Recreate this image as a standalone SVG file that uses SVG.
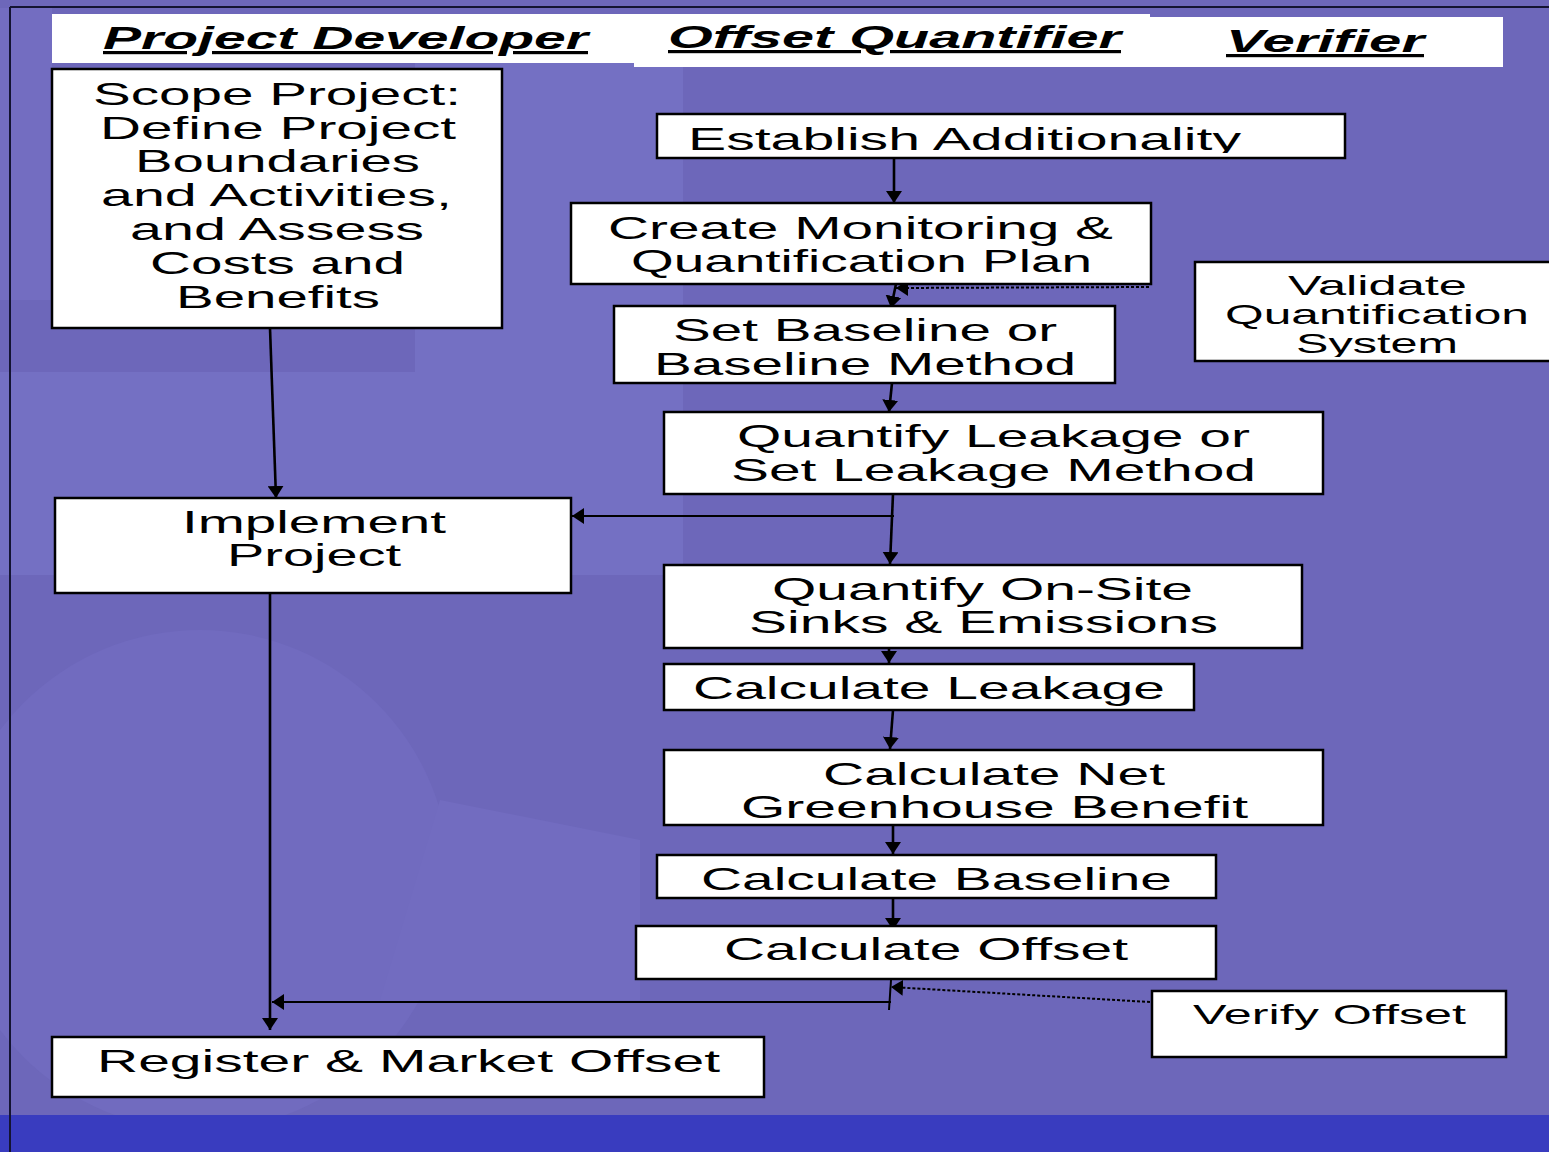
<svg xmlns="http://www.w3.org/2000/svg" width="1549" height="1152" viewBox="0 0 1549 1152">
<style>
.box{fill:#fff;stroke:#000;stroke-width:2.5}
.hdr{fill:#fff}
.t{font-family:"Liberation Sans",Arial,sans-serif;font-size:32px;fill:#000}
.ts{font-family:"Liberation Sans",Arial,sans-serif;font-size:28px;fill:#000}
.h{font-family:"Liberation Sans",Arial,sans-serif;font-size:32px;font-weight:bold;font-style:italic;fill:#000;text-decoration:underline}
.c{stroke:#000;stroke-width:2.6;fill:none}
.cthin{stroke:#000;stroke-width:2;fill:none}
.dot{stroke:#000;stroke-width:2;fill:none;stroke-dasharray:3 2}
</style>
<defs>
<marker id="ah" viewBox="0 0 12 16" refX="12" refY="8" markerWidth="12" markerHeight="16" markerUnits="userSpaceOnUse" orient="auto">
<path d="M0,0 L12,8 L0,16 z" fill="#000"/>
</marker>
<clipPath id="clipEst"><rect x="658" y="115" width="686" height="38"/></clipPath>
<clipPath id="clipVal"><rect x="1196" y="263" width="353" height="94"/></clipPath>
</defs>
<g id="background">
<rect x="0" y="0" width="1549" height="1152" fill="#6d67ba"/>
<path d="M0,8 L52,8 L52,300 L0,300 Z" fill="#736dc1"/>
<path d="M0,372 L683,372 L683,575 L0,575 Z M415,60 L683,60 L683,372 L415,372 Z" fill="#7470c3"/>
<circle cx="200" cy="880" r="250" fill="#716bbf"/>
<path d="M440,800 L640,840 L640,1000 L380,1000 Z" fill="#726cc0"/>
<rect x="0" y="1115" width="1549" height="37" fill="#393cbf"/>
<line x1="10" y1="7" x2="10" y2="1152" stroke="#141432" stroke-width="2"/>
<line x1="10" y1="7" x2="1549" y2="7" stroke="#141432" stroke-width="2"/>
</g>
<g id="headers">
<rect class="hdr" x="52" y="14" width="582" height="49"/>
<rect class="hdr" x="634" y="14" width="516" height="53"/>
<rect class="hdr" x="1150" y="17" width="353" height="50"/>
<text class="h" x="103" y="49" textLength="485" lengthAdjust="spacingAndGlyphs">Project Developer</text>
<text class="h" x="668" y="48" textLength="453" lengthAdjust="spacingAndGlyphs">Offset Quantifier</text>
<text class="h" x="1226" y="52" textLength="198" lengthAdjust="spacingAndGlyphs">Verifier</text>
</g>
<g id="connectors">
<path class="c" d="M894,158 L894,203" marker-end="url(#ah)"/>
<path class="c" d="M896,284 L891,308" marker-end="url(#ah)"/>
<path class="dot" d="M1149,287 L896,288" marker-end="url(#ah)"/>
<path class="c" d="M892,383 L889,412" marker-end="url(#ah)"/>
<path class="c" d="M893,494 L890,564" marker-end="url(#ah)"/>
<path class="cthin" d="M894,516 L572,516" marker-end="url(#ah)"/>
<path class="c" d="M889,630 L889,663" marker-end="url(#ah)"/>
<path class="c" d="M893,710 L890,749" marker-end="url(#ah)"/>
<path class="c" d="M893,818 L893,854" marker-end="url(#ah)"/>
<path class="c" d="M893,898 L893,930" marker-end="url(#ah)"/>
<path class="cthin" d="M891,980 L889,1010"/>
<path class="cthin" d="M891,1002 L272,1002" marker-end="url(#ah)"/>
<path class="dot" d="M1150,1002 L891,987" marker-end="url(#ah)"/>
<path class="c" d="M270,328 L276,498" marker-end="url(#ah)"/>
<path class="c" d="M270,593 L270,1030" marker-end="url(#ah)"/>
</g>
<g id="scope">
<rect class="box" x="52" y="69" width="450" height="259"/>
<text class="t" x="93" y="105" textLength="368" lengthAdjust="spacingAndGlyphs">Scope Project:</text>
<text class="t" x="100" y="139" textLength="356" lengthAdjust="spacingAndGlyphs">Define Project</text>
<text class="t" x="135" y="172" textLength="285" lengthAdjust="spacingAndGlyphs">Boundaries</text>
<text class="t" x="101" y="206" textLength="351" lengthAdjust="spacingAndGlyphs">and Activities,</text>
<text class="t" x="130" y="240" textLength="294" lengthAdjust="spacingAndGlyphs">and Assess</text>
<text class="t" x="150" y="274" textLength="255" lengthAdjust="spacingAndGlyphs">Costs and</text>
<text class="t" x="176" y="308" textLength="204" lengthAdjust="spacingAndGlyphs">Benefits</text>
</g>
<g id="establish">
<rect class="box" x="657" y="114" width="688" height="44"/>
<text class="t" x="688" y="150" textLength="553" lengthAdjust="spacingAndGlyphs" clip-path="url(#clipEst)">Establish Additionality</text>
</g>
<g id="monitoring">
<rect class="box" x="571" y="203" width="580" height="81"/>
<text class="t" x="608" y="239" textLength="505" lengthAdjust="spacingAndGlyphs">Create Monitoring &amp;</text>
<text class="t" x="631" y="272" textLength="461" lengthAdjust="spacingAndGlyphs">Quantification Plan</text>
</g>
<g id="validate">
<rect class="box" x="1195" y="262" width="360" height="99"/>
<g clip-path="url(#clipVal)">
<text class="ts" x="1288" y="295" textLength="179" lengthAdjust="spacingAndGlyphs">Validate</text>
<text class="ts" x="1225" y="324" textLength="304" lengthAdjust="spacingAndGlyphs">Quantification</text>
<text class="ts" x="1296" y="353" textLength="162" lengthAdjust="spacingAndGlyphs">System</text>
</g>
</g>
<g id="baseline-method">
<rect class="box" x="614" y="306" width="501" height="77"/>
<text class="t" x="673" y="341" textLength="384" lengthAdjust="spacingAndGlyphs">Set Baseline or</text>
<text class="t" x="654" y="375" textLength="422" lengthAdjust="spacingAndGlyphs">Baseline Method</text>
</g>
<g id="leakage-method">
<rect class="box" x="664" y="412" width="659" height="82"/>
<text class="t" x="737" y="447" textLength="513" lengthAdjust="spacingAndGlyphs">Quantify Leakage or</text>
<text class="t" x="731" y="481" textLength="525" lengthAdjust="spacingAndGlyphs">Set Leakage Method</text>
</g>
<g id="implement">
<rect class="box" x="55" y="498" width="516" height="95"/>
<text class="t" x="182" y="533" textLength="264" lengthAdjust="spacingAndGlyphs">Implement</text>
<text class="t" x="227" y="566" textLength="174" lengthAdjust="spacingAndGlyphs">Project</text>
</g>
<g id="onsite">
<rect class="box" x="664" y="565" width="638" height="83"/>
<text class="t" x="772" y="600" textLength="421" lengthAdjust="spacingAndGlyphs">Quantify On-Site</text>
<text class="t" x="749" y="633" textLength="469" lengthAdjust="spacingAndGlyphs">Sinks &amp; Emissions</text>
</g>
<g id="calc-leakage">
<rect class="box" x="664" y="664" width="530" height="46"/>
<text class="t" x="693" y="699" textLength="472" lengthAdjust="spacingAndGlyphs">Calculate Leakage</text>
</g>
<g id="net-benefit">
<rect class="box" x="664" y="750" width="659" height="75"/>
<text class="t" x="823" y="785" textLength="342" lengthAdjust="spacingAndGlyphs">Calculate Net</text>
<text class="t" x="741" y="818" textLength="507" lengthAdjust="spacingAndGlyphs">Greenhouse Benefit</text>
</g>
<g id="calc-baseline">
<rect class="box" x="657" y="855" width="559" height="43"/>
<text class="t" x="701" y="890" textLength="471" lengthAdjust="spacingAndGlyphs">Calculate Baseline</text>
</g>
<g id="calc-offset">
<rect class="box" x="636" y="926" width="580" height="53"/>
<text class="t" x="724" y="960" textLength="404" lengthAdjust="spacingAndGlyphs">Calculate Offset</text>
</g>
<g id="verify">
<rect class="box" x="1152" y="991" width="354" height="66"/>
<text class="ts" x="1193" y="1024" textLength="273" lengthAdjust="spacingAndGlyphs">Verify Offset</text>
</g>
<g id="register">
<rect class="box" x="52" y="1037" width="712" height="60"/>
<text class="t" x="97" y="1072" textLength="623" lengthAdjust="spacingAndGlyphs">Register &amp; Market Offset</text>
</g>
</svg>
